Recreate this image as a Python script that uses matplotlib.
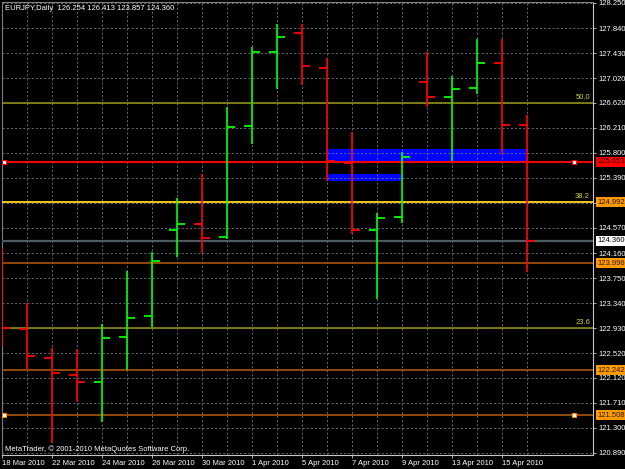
import matplotlib.pyplot as plt
from matplotlib.transforms import blended_transform_factory

plt.rcParams['font.family'] = ['Liberation Sans', 'DejaVu Sans']

# daily EURJPY bars, 18 Mar - 16 Apr 2010
dates = ['18 Mar 2010', '19 Mar 2010', '22 Mar 2010', '23 Mar 2010', '24 Mar 2010',
         '25 Mar 2010', '26 Mar 2010', '29 Mar 2010', '30 Mar 2010', '31 Mar 2010',
         '1 Apr 2010', '2 Apr 2010', '5 Apr 2010', '6 Apr 2010', '7 Apr 2010',
         '8 Apr 2010', '9 Apr 2010', '12 Apr 2010', '13 Apr 2010', '14 Apr 2010',
         '15 Apr 2010', '16 Apr 2010']
opens = [123.500, 122.918, 122.444, 122.166, 122.051, 122.787, 123.131, 124.537, 124.635, 124.423,
         126.238, 127.449, 127.759, 127.187, 125.633, 124.537, 124.750, 126.958, 126.713, 126.860,
         127.269, 126.254]
highs = [124.243, 123.343, 122.607, 122.591, 123.000, 123.867, 124.177, 125.061, 125.453, 126.549,
         127.530, 127.907, 127.907, 127.350, 126.140, 124.815, 125.813, 127.449, 127.056, 127.661,
         127.661, 126.413]
lows = [122.640, 122.247, 121.053, 121.724, 121.397, 122.247, 122.951, 124.096, 124.161, 124.390,
        125.944, 126.843, 126.909, 125.339, 124.472, 123.409, 124.652, 126.549, 125.666, 126.762,
        125.780, 123.857]
closes = [122.934, 122.476, 122.198, 122.051, 122.771, 123.098, 124.030, 124.635, 124.406, 126.222,
          127.449, 127.694, 127.220, 125.660, 124.537, 124.733, 125.731, 126.713, 126.843, 127.269,
          126.255, 124.360]

price_ticks = [128.250, 127.840, 127.430, 127.020, 126.620, 126.210, 125.800, 125.390, 124.980,
               124.570, 124.160, 123.750, 123.340, 122.930, 122.520, 122.120, 121.710, 121.300,
               120.890]
hidden_tick = 124.980  # covered by the 124.992 label

# fibo levels
fib_levels = [('50.0', 126.620), ('38.2', 124.992), ('23.6', 122.930)]
red_level = 125.653
gold_level = 124.992
bid_level = 124.360
orange_levels = [123.996, 122.242, 121.508]

# blue rectangles: (first bar, last bar, low, high)
zones = [(13, 21, 125.658, 125.862), (13, 16, 125.339, 125.453)]

W, H = 625, 469
fs = 5.5
fig = plt.figure(figsize=(W / 100, H / 100), dpi=100, facecolor='black')
ax = fig.add_axes([2 / W, 1 - 455 / H, 591 / W, 453 / H], facecolor='black')

n = len(dates)
idx = list(range(n))
ax.set_xlim(0, 591 / 25)
ax.set_ylim(120.857, 128.266)

for x0, x1, lo, hi in zones:
    ax.fill_between([x0, x1], lo, hi, color='#0000FF', lw=0, zorder=1)

# grid
ax.set_xticks(idx[::2])
ax.set_xticks(idx, minor=True)
ax.set_xticklabels(dates[::2])
ax.set_yticks(price_ticks)
ax.set_yticklabels(['' if p == hidden_tick else f'{p:.3f}' for p in price_ticks])
ax.grid(True, which='both', color='#6A7B8C', lw=0.6, ls=(0, (2.5, 2.5)), zorder=2)
ax.set_axisbelow(False)

# horizontal levels
for name, lvl in fib_levels:
    ax.axhline(lvl, color='#8C8C14', lw=1.2, zorder=3)
    ax.text((590 - 2) / 25, lvl + 0.03, name, color='#D2D23C', fontsize=fs,
            ha='right', va='bottom', zorder=6)
ax.axhline(gold_level, color='#FFC81E', lw=1.3, zorder=3)
ax.axhline(bid_level, color='#4E5A62', lw=1.6, zorder=3)
for lvl in orange_levels:
    ax.axhline(lvl, color='#A8560C', lw=1.2, zorder=3)
ax.axhline(red_level, color='#FF0000', lw=1.4, zorder=3)
for xm in [(4 - 2) / 25, (574 - 2) / 25]:
    ax.plot(xm, red_level, 's', ms=3, mfc='white', mec='#FF0000', mew=0.8, zorder=7)
    ax.plot(xm, orange_levels[-1], 's', ms=3, mfc='white', mec='#FF8C00', mew=0.8, zorder=7)

# OHLC bars
colors = ['#00FF00' if c >= o else '#FF0000' for o, c in zip(opens, closes)]
tick = 8 / 25
ax.vlines(idx, lows, highs, colors=colors, lw=1.2, zorder=5)
ax.hlines(opens, [i - tick for i in idx], idx, colors=colors, lw=1.3, zorder=5)
ax.hlines(closes, idx, [i + tick for i in idx], colors=colors, lw=1.3, zorder=5)

# axes styling
ax.yaxis.tick_right()
ax.tick_params(axis='y', colors='#C8C8C8', length=2.5, width=0.6, pad=1.2, labelsize=fs,
               labelcolor='white')
ax.tick_params(axis='x', which='major', colors='#C8C8C8', length=2.5, width=0.6, pad=1,
               labelsize=fs, labelcolor='white')
ax.tick_params(axis='x', which='minor', length=0)
for lab in ax.get_xticklabels():
    lab.set_ha('left')
for side in ['left', 'top']:
    ax.spines[side].set_color('#808080')
for side in ['right', 'bottom']:
    ax.spines[side].set_color('#C8C8C8')
for sp in ax.spines.values():
    sp.set_linewidth(0.8)

# price labels on the right scale
tr = blended_transform_factory(ax.transAxes, ax.transData)
boxes = [(red_level, '#FF0000', '#300000'), (gold_level, '#FF9B00', '#2A1800'),
         (bid_level, '#FFFFFF', '#000000')] + [(lvl, '#FF9B00', '#2A1800') for lvl in orange_levels]
for lvl, bg, fg in boxes:
    ax.text(1 + 4.5 / 591, lvl, f'{lvl:.3f}', transform=tr, fontsize=fs, color=fg,
            ha='left', va='center', zorder=8, clip_on=False,
            bbox=dict(boxstyle='square,pad=0.22', fc=bg, ec='none'))

fig.text(5 / W, 1 - 8 / H, 'EURJPY,Daily  126.254 126.413 123.857 124.360', color='white',
         fontsize=fs, ha='left', va='center')
fig.text(5 / W, 1 - 449 / H, 'MetaTrader, © 2001-2010 MetaQuotes Software Corp.', color='white',
         fontsize=fs, ha='left', va='center')

fig.savefig('out.png', dpi=100, facecolor='black')
